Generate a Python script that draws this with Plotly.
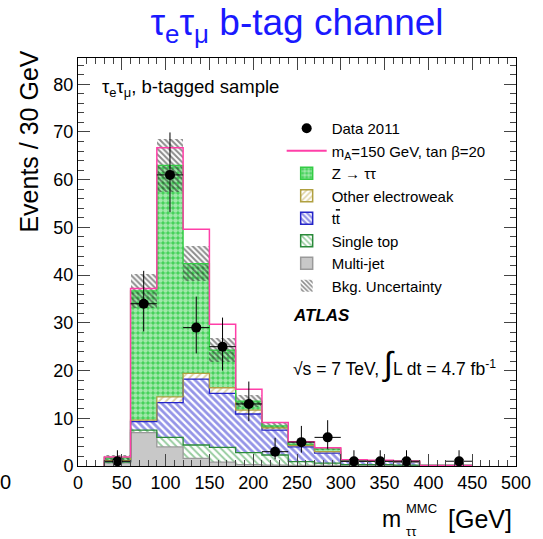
import numpy as np
import plotly.graph_objects as go

# ---------------- data ----------------
bin_edges = [30, 60, 90, 120, 150, 180, 210, 240, 270, 300, 330, 360, 390, 420, 450]
multijet   = [0.6, 7.0, 4.0, 1.6, 0.8, 0.3, 0.2, 0.1, 0.1, 0.05, 0.05, 0.05, 0.0, 0.0]
single_top = [0.2, 0.5, 2.0, 2.8, 3.1, 2.5, 2.1, 0.8, 0.5, 0.25, 0.25, 0.15, 0.05, 0.05]
ttbar      = [0.2, 1.8, 7.3, 13.8, 11.3, 8.1, 5.2, 3.1, 2.1, 0.7, 0.7, 0.6, 0.05, 0.05]
other_ew   = [0.1, 0.3, 1.2, 1.2, 1.2, 0.8, 0.5, 0.3, 0.3, 0.1, 0.05, 0.05, 0.0, 0.0]
ztautau    = [0.7, 27.1, 48.5, 23.0, 7.9, 1.9, 0.4, 0.3, 0.6, 0.1, 0.05, 0.1, 0.0, 0.0]
signal     = [0.1, 0.5, 3.7, 7.2, 5.4, 2.5, 0.7, 0.5, 0.2, 0.1, 0.1, 0.1, 0.0, 0.0]
bkg_unc    = [0.5, 3.5, 5.5, 3.6, 2.5, 1.3, 0.6, 0.4, 0.3, 0.1, 0.1, 0.1, 0.05, 0.05]
data_counts = [1, 34, 61, 29, 25, 13, 3, 5, 6, 1, 1, 1, 0, 1]
data_err_up = [2.3, 6.9, 8.9, 6.5, 6.1, 4.7, 2.9, 3.4, 3.6, 2.3, 2.3, 2.3, 0.0, 2.3]
data_err_dn = [0.8, 5.8, 7.8, 5.4, 5.0, 3.6, 1.6, 2.2, 2.4, 0.8, 0.8, 0.8, 0.0, 0.8]

# ---------------- derived ----------------
edges = np.array(bin_edges, dtype=float)
centers = 0.5 * (edges[:-1] + edges[1:])
widths = np.diff(edges)

components = [
    # name, values, line colour, marker colour, pattern
    ("Multi-jet", multijet, "#9a9a9a", "#c8c8c8", dict(shape="")),
    ("Single top", single_top, "#2a8a3a", "white",
     dict(shape="\\", fgcolor="#2f9a40", size=5, solidity=0.4)),
    ("t<span style='text-decoration:overline'>t</span>", ttbar, "#2424c8", "white",
     dict(shape="\\", fgcolor="#2a2ad0", size=5, solidity=0.55)),
    ("Other electroweak", other_ew, "#b0a040", "white",
     dict(shape="/", fgcolor="#c0aa50", size=5, solidity=0.4)),
    ("Z \u2192 \u03c4\u03c4", ztautau, "#33cc44", "#44cc55",
     dict(shape=".", fgcolor="white", bgcolor="#40d055", size=5, solidity=0.65)),
]

fig = go.Figure()

base = np.zeros(len(centers))
tops = []
for name, vals, lcol, mcol, pat in components:
    v = np.array(vals, dtype=float)
    fig.add_trace(go.Bar(
        x=centers, y=v, base=base, width=widths,
        marker=dict(color=mcol, line=dict(width=0), pattern=pat),
        showlegend=False, hoverinfo="skip"))
    base = base + v
    tops.append((name, base.copy(), lcol, mcol, pat))

total_bkg = base.copy()
unc = np.array(bkg_unc, dtype=float)
unc_pat = dict(shape="\\", fgcolor="#1a1a1a", bgcolor="rgba(0,0,0,0)", size=4, solidity=0.5)
fig.add_trace(go.Bar(
    x=centers, y=2 * unc, base=total_bkg - unc, width=widths,
    marker=dict(color="rgba(0,0,0,0)", line=dict(width=0), pattern=unc_pat),
    showlegend=False, hoverinfo="skip"))

def step_xy(top):
    xs = [edges[0]] + list(edges) + [edges[-1]]
    ys = [0.0] + list(top) + [top[-1], 0.0]
    return xs, ys

# component outlines
for name, top, lcol, mcol, pat in tops:
    xs, ys = step_xy(top)
    fig.add_trace(go.Scatter(x=xs, y=ys, mode="lines", line=dict(color=lcol, width=1.3, shape="hv"),
                             showlegend=False, hoverinfo="skip"))

# signal on top of background
sig_top = total_bkg + np.array(signal, dtype=float)
xs, ys = step_xy(sig_top)
fig.add_trace(go.Scatter(x=xs, y=ys, mode="lines", line=dict(color="#ff3fa8", width=1.5, shape="hv"),
                         showlegend=False, hoverinfo="skip"))

# data
cnt = np.array(data_counts, dtype=float)
mask = cnt > 0
fig.add_trace(go.Scatter(
    x=centers[mask], y=cnt[mask], mode="markers",
    marker=dict(color="black", size=10, symbol="circle"),
    error_y=dict(type="data", symmetric=False, array=np.array(data_err_up)[mask],
                 arrayminus=np.array(data_err_dn)[mask], color="black", thickness=1, width=0),
    error_x=dict(type="data", array=(widths / 2)[mask], color="black", thickness=1, width=0),
    name="Data 2011", showlegend=False))

# ---------------- legend entries ----------------
fig.add_trace(go.Scatter(x=[None], y=[None], mode="markers",
                         marker=dict(color="black", size=10), name="Data 2011"))
fig.add_trace(go.Scatter(x=[None], y=[None], mode="lines", line=dict(color="#ff3fa8", width=2),
                         name="m<sub>A</sub>=150 GeV, tan \u03b2=20"))
for name, top, lcol, mcol, pat in reversed(tops):
    fig.add_trace(go.Bar(x=[None], y=[None], name=name,
                         marker=dict(color=mcol, line=dict(color=lcol, width=1.5), pattern=pat)))
fig.add_trace(go.Bar(x=[None], y=[None], name="Bkg. Uncertainty",
                     marker=dict(color="rgba(0,0,0,0)", line=dict(width=0), pattern=unc_pat)))

# ---------------- layout ----------------
L, R, T, B = 78, 521, 58, 466
W, H = 543, 539
def px(x):
    return (x - L) / (R - L)
def py(y):
    return (B - y) / (B - T)

font = "Liberation Sans, Arial, Helvetica, sans-serif"

fig.update_layout(
    width=W, height=H,
    margin=dict(l=L, r=W - R, t=T, b=H - B),
    paper_bgcolor="white", plot_bgcolor="white",
    barmode="overlay", bargap=0,
    font=dict(family=font, color="black"),
    title=dict(text="\u03c4<sub>e</sub>\u03c4<sub>\u03bc</sub> b-tag channel",
               x=297 / W, xanchor="center", y=1 - 22 / H, yanchor="middle",
               font=dict(size=37, color="#1a1aff", family=font)),
    legend=dict(x=px(284), y=py(112), xanchor="left", yanchor="top",
                bgcolor="rgba(0,0,0,0)", font=dict(size=15, family=font),
                itemwidth=40, tracegroupgap=0, traceorder="normal"),
    xaxis=dict(range=[0, 500], dtick=50, tick0=0, ticks="inside", ticklen=12,
               showline=True, linecolor="black", linewidth=1, mirror="allticks",
               showgrid=False, zeroline=False, tickfont=dict(size=18),
               minor=dict(dtick=10, ticks="inside", ticklen=6, showgrid=False)),
    yaxis=dict(range=[0, 85.5], dtick=10, tick0=0, ticks="inside", ticklen=12,
               showline=True, linecolor="black", linewidth=1, mirror="allticks",
               showgrid=False, zeroline=False, tickfont=dict(size=18),
               minor=dict(dtick=2, ticks="inside", ticklen=6, showgrid=False)),
)

ann = [
    dict(text="\u03c4<sub>e</sub>\u03c4<sub>\u03bc</sub>, b-tagged sample", x=px(100), y=py(88),
         xanchor="left", yanchor="middle", font=dict(size=18.5)),
    dict(text="<b><i>ATLAS</i></b>", x=px(293), y=py(315), xanchor="left", yanchor="middle",
         font=dict(size=17)),
    dict(text="\u221as = 7 TeV, <span style='font-size:33px'>\u222b</span>L dt = 4.7 fb<sup>-1</sup>",
         x=px(293), y=py(363), xanchor="left", yanchor="middle", font=dict(size=17.5)),
    dict(text="Events / 30 GeV", x=px(28), y=py(142), textangle=-90, xanchor="center",
         yanchor="middle", font=dict(size=25)),
    dict(text="m", x=px(407), y=py(519), xanchor="right", yanchor="middle", font=dict(size=23)),
    dict(text="MMC", x=px(408), y=py(508), xanchor="left", yanchor="middle", font=dict(size=13)),
    dict(text="\u03c4\u03c4", x=px(408), y=py(531), xanchor="left", yanchor="middle", font=dict(size=13)),
    dict(text="[GeV]", x=px(450), y=py(519), xanchor="left", yanchor="middle", font=dict(size=25)),
    dict(text="0", x=px(5), y=py(482), xanchor="center", yanchor="middle", font=dict(size=20)),
]
for a in ann:
    a.update(xref="paper", yref="paper", showarrow=False)
    fig.add_annotation(**a)

fig.write_html("out.html", config={"displayModeBar": False},
               post_script="document.body.style.margin='0px';document.body.style.padding='0px';")
